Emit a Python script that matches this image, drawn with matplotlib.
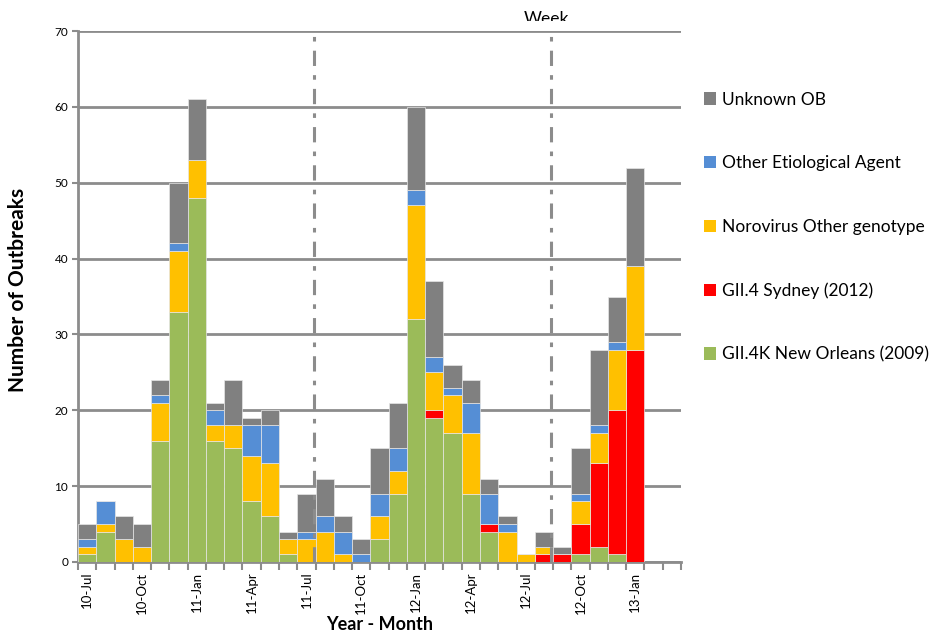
import numpy as np
import matplotlib.pyplot as plt
from matplotlib.patches import Patch, Rectangle

plt.rcParams['font.family'] = ['Lato', 'DejaVu Sans']

# DATA - monthly outbreak counts, Jul 2010 .. Mar 2013
months = ["10-Jul", "10-Aug", "10-Sep", "10-Oct", "10-Nov", "10-Dec",
          "11-Jan", "11-Feb", "11-Mar", "11-Apr", "11-May", "11-Jun",
          "11-Jul", "11-Aug", "11-Sep", "11-Oct", "11-Nov", "11-Dec",
          "12-Jan", "12-Feb", "12-Mar", "12-Apr", "12-May", "12-Jun",
          "12-Jul", "12-Aug", "12-Sep", "12-Oct", "12-Nov", "12-Dec",
          "13-Jan", "13-Feb", "13-Mar"]

new_orleans = [1, 4, 0, 0, 16, 33, 48, 16, 15, 8, 6, 1,
               0, 0, 0, 0, 3, 9, 32, 19, 17, 9, 4, 0,
               0, 0, 0, 1, 2, 1, 0, 0, 0]
sydney = [0, 0, 0, 0, 0, 0, 0, 0, 0, 0, 0, 0,
          0, 0, 0, 0, 0, 0, 0, 1, 0, 0, 1, 0,
          0, 1, 1, 4, 11, 19, 28, 0, 0]
noro_other = [1, 1, 3, 2, 5, 8, 5, 2, 3, 6, 7, 2,
              3, 4, 1, 0, 3, 3, 15, 5, 5, 8, 0, 4,
              1, 1, 0, 3, 4, 8, 11, 0, 0]
other_agent = [1, 3, 0, 0, 1, 1, 0, 2, 0, 4, 5, 0,
               1, 2, 3, 1, 3, 3, 2, 2, 1, 4, 4, 1,
               0, 0, 0, 1, 1, 1, 0, 0, 0]
unknown = [2, 0, 3, 3, 2, 8, 8, 1, 6, 1, 2, 1,
           5, 5, 2, 2, 6, 6, 11, 10, 3, 3, 2, 1,
           0, 2, 1, 6, 10, 6, 13, 0, 0]

series = [
    ("GII.4K New Orleans (2009)", new_orleans, "#9BBB59"),
    ("GII.4 Sydney (2012)", sydney, "#FF0000"),
    ("Norovirus Other genotype", noro_other, "#FFC000"),
    ("Other Etiological Agent", other_agent, "#558ED5"),
    ("Unknown OB", unknown, "#808080"),
]

label_every = 3
week_lines = [13, 26]   # slot boundaries with dash-dot markers

grid_col = "#8c8c8c"

fig = plt.figure(figsize=(9.37, 6.32), dpi=100)
ax = fig.add_axes([78 / 937, 1 - 562 / 632, (681 - 78) / 937, (562 - 31) / 632])

x = np.arange(len(months))
bottom = np.zeros(len(months))
for name, vals, col in series:
    vals = np.array(vals, dtype=float)
    ax.bar(x, vals, width=1.0, bottom=bottom, color=col, edgecolor="#e6e6e6",
           linewidth=0.5, align="edge", zorder=3)
    bottom += vals

ax.set_xlim(0, len(months))
ax.set_ylim(0, 70)
ax.set_yticks(np.arange(0, 71, 10))
ax.yaxis.grid(True, color=grid_col, linewidth=2, zorder=0)
ax.tick_params(axis="y", labelsize=8.5, length=4, color=grid_col, width=1.5, pad=3)

ax.set_xticks(np.arange(len(months) + 1), minor=False)
ax.set_xticklabels([])
ax.tick_params(axis="x", which="major", length=6, color=grid_col, width=1.5)
ax.set_xticks(x[::label_every] + 0.5, minor=True)
ax.set_xticklabels(months[::label_every], minor=True, rotation=90, fontsize=9.5)
ax.tick_params(axis="x", which="minor", length=0, pad=7)

for s in ["top", "right"]:
    ax.spines[s].set_visible(False)
for s in ["left", "bottom"]:
    ax.spines[s].set_color(grid_col)
    ax.spines[s].set_linewidth(2)

for b in week_lines:
    ax.axvline(b - 0.1, color=grid_col, linewidth=2.2, linestyle=(0, (5, 3, 1.5, 3)),
               zorder=4)

# "Week" caption, its lower part hidden behind a white band as in the source
fig.text(546 / 937, 1 - 24 / 632, "Week", fontsize=12.5, ha="center", va="baseline")
fig.add_artist(Rectangle((500 / 937, 1 - 30 / 632), 100 / 937, 9 / 632,
                         transform=fig.transFigure, facecolor="white",
                         edgecolor="none", zorder=5))

ax.set_ylabel("Number of Outbreaks", fontsize=15, fontweight="bold")
ax.yaxis.set_label_coords((18 - 78) / 603, (562 - 290) / 531)
ax.yaxis.label.set_va("center")
ax.set_xlabel("Year - Month", fontsize=13, fontweight="bold")
ax.xaxis.set_label_coords((380 - 78) / 603, (562 - 625) / 531)
ax.xaxis.label.set_va("center")

handles = [Patch(facecolor=col, label=name) for name, vals, col in series[::-1]]
fig.legend(handles=handles, loc="upper left", bbox_to_anchor=(0.751, 0.855),
           frameon=False, fontsize=12.5, labelspacing=2.74, handlelength=0.72,
           handleheight=0.72, handletextpad=0.35, borderpad=0, borderaxespad=0)

plt.savefig("out.png", dpi=100)
